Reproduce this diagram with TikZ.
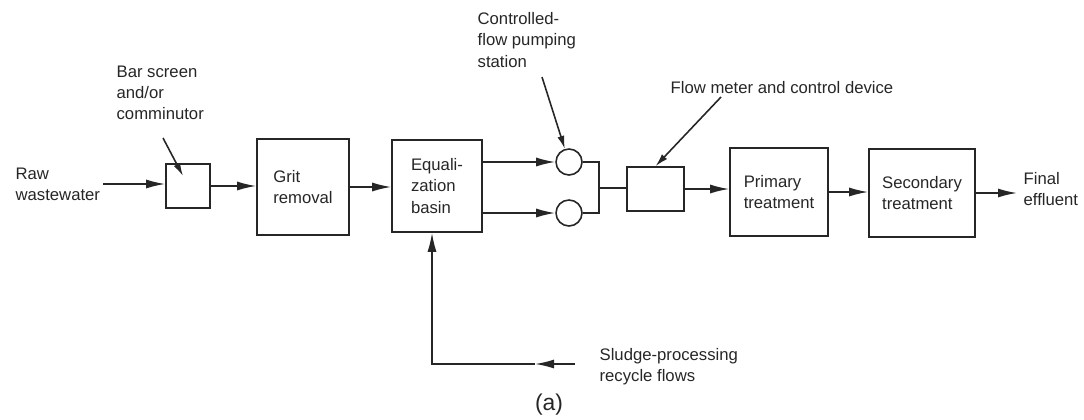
\documentclass[tikz,border=0pt]{standalone}
\usepackage{fontspec}
\setmainfont{Liberation Sans}
\usetikzlibrary{arrows.meta}

\begin{document}
\begin{tikzpicture}[x=0.02cm, y=-0.02cm, line width=0.9pt, color=black!85,
	every node/.style={font=\fontsize{9.5}{12}\selectfont},
	>={Latex[length=3.8mm, width=1.8mm]},
	box/.style={draw, align=left, inner sep=0pt},
	pump/.style={draw, circle, minimum size=0.52cm, inner sep=0pt},
	note/.style={align=left, anchor=west},
	pointer/.style={-{Latex[length=2.6mm, width=1.4mm]}}]
	\useasboundingbox (0,0) rectangle (1084,419);
	\node[note] (raw) at (9,184) {Raw\\wastewater};
	\node[box, minimum width=0.88cm, minimum height=0.88cm] (screen) at (188,186) {};
	\node[note] (barlbl) at (110,93) {Bar screen\\and/or\\comminutor};
	\node[box, minimum width=1.84cm, minimum height=1.92cm] (grit) at (303,187) {Grit\\removal};
	\node[box, minimum width=1.8cm, minimum height=1.84cm] (equal) at (437,186) {Equali-\\zation\\basin};
	\node[pump] (pump1) at (569,162) {};
	\node[pump] (pump2) at (569,213) {};
	\node[note] (pumplbl) at (471,40) {Controlled-\\flow pumping\\station};
	\node[box, minimum width=1.14cm, minimum height=0.88cm] (meter) at (655.5,189) {};
	\node[note] (meterlbl) at (664,88) {Flow meter and control device};
	\node[box, minimum width=1.96cm, minimum height=1.76cm] (primary) at (779,192) {Primary\\treatment};
	\node[box, minimum width=2.12cm, minimum height=1.76cm] (second) at (922,193) {Secondary\\treatment};
	\node[note] (final) at (1017,189) {Final\\effluent};
	\node[note] (sludge) at (593,367) {Sludge-processing\\recycle flows};
	\node[font=\fontsize{13}{15}\selectfont] (cap) at (549,405) {(a)};
	\coordinate (barpt) at (163,138);
	\coordinate (bartip) at (183,176);
	\coordinate (pumppt) at (542,77);
	\coordinate (meterpt) at (721,97);
	\coordinate (join) at (599,188);
	\coordinate (sludgein) at (575,364);
	\coordinate (sludgetip) at (535,364);
	\coordinate (recyc) at (432,364);
	\draw[->, shorten <=-2pt] (raw.east) -- (raw.east -| screen.west);
	\draw[->] (screen.east) -- (screen.east -| grit.west);
	\draw[->] (grit.east) -- (grit.east -| equal.west);
	\draw[->] (equal.east |- pump1) -- (pump1.west);
	\draw[->] (equal.east |- pump2) -- (pump2.west);
	\draw (pump1.east) -| (join);
	\draw (pump2.east) -| (join);
	\draw (join) -- (join -| meter.west);
	\draw[->] (meter.east) -- (meter.east -| primary.west);
	\draw[->] (primary.east) -- (primary.east -| second.west);
	\draw[->] (second.east) -- (second.east -| final.west);
	\draw[pointer] (barpt) -- (bartip);
	\draw[pointer] (pumppt) -- (pump1);
	\draw[pointer] (meterpt) -- (meter.north);
	\draw[->] (sludgein) -- (sludgetip);
	\draw[->] (sludgetip) -- (recyc) -- (recyc |- equal.south);
\end{tikzpicture}
\end{document}
